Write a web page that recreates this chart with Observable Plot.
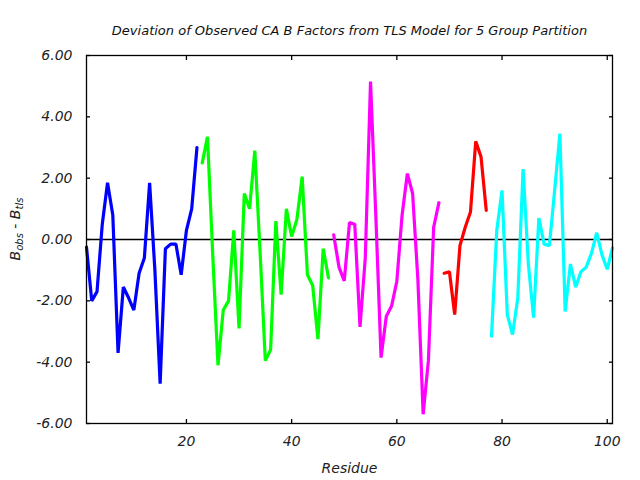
<!DOCTYPE html>
<html><head><meta charset="utf-8">
<script src="https://cdn.jsdelivr.net/npm/d3@7"></script>
<script src="https://cdn.jsdelivr.net/npm/@observablehq/plot@0.6"></script>
<style>body{margin:0;background:#fff}</style>
</head><body><div id="chart"></div>
<script>
const title = "Deviation of Observed CA B Factors from TLS Model for 5 Group Partition";
const xLabel = "Residue";
const xTicks = [20, 40, 60, 80, 100];
const yTicks = [-6, -4, -2, 0, 2, 4, 6];

// group 1 (residues 1-22)
const blueStart = 1;
const blueValues = [-0.25, -2.0, -1.7, 0.5, 1.85, 0.8, -3.7, -1.55, -1.9, -2.3, -1.1, -0.6, 1.85, -1.0, -4.7, -0.3, -0.15, -0.15, -1.15, 0.3, 1.0, 3.0];
// group 2 (residues 23-47)
const greenStart = 23;
const greenValues = [2.5, 3.35, -0.5, -4.1, -2.3, -2.0, 0.3, -2.9, 1.5, 1.0, 2.9, -0.4, -3.95, -3.6, 0.6, -1.8, 1.0, 0.1, 0.65, 2.05, -1.15, -1.5, -3.25, -0.3, -1.25];
// group 3 (residues 48-68)
const magentaStart = 48;
const magentaValues = [0.15, -0.9, -1.35, 0.55, 0.5, -2.85, -0.6, 5.15, 0.8, -3.85, -2.5, -2.17, -1.36, 0.8, 2.15, 1.5, -1.3, -5.7, -3.95, 0.4, 1.2];
// group 4 (residues 69-77)
const redStart = 69;
const redValues = [-1.1, -1.05, -2.45, -0.2, 0.4, 0.9, 3.2, 2.7, 0.95];
// group 5 (residues 78-101)
const cyanStart = 78;
const cyanValues = [-3.15, 0.3, 1.6, -2.45, -3.1, -1.9, 2.3, -0.8, -2.55, 0.7, -0.15, -0.2, 1.6, 3.45, -2.35, -0.8, -1.55, -1.05, -0.9, -0.45, 0.22, -0.5, -0.97, -0.27];

const groups = [
  {start: blueStart, values: blueValues, color: "#0000ff"},
  {start: greenStart, values: greenValues, color: "#00ff00"},
  {start: magentaStart, values: magentaValues, color: "#ff00ff"},
  {start: redStart, values: redValues, color: "#ff0000"},
  {start: cyanStart, values: cyanValues, color: "#00ffff"}
];

const font = {fontFamily: "DejaVu Sans", fontStyle: "italic"};
const fmt = d => d.toFixed(2);

const lineMarks = groups.map(g =>
  Plot.line(g.values.map((v, i) => ({residue: g.start + i, value: v})),
    {x: "residue", y: "value", stroke: g.color, strokeWidth: 3.2, strokeLinejoin: "miter"}));

const chart = Plot.plot({
  width: 640, height: 480,
  marginLeft: 86, marginRight: 28, marginTop: 55, marginBottom: 57,
  style: {background: "white", fontFamily: "DejaVu Sans"},
  x: {domain: [1, 101]},
  y: {domain: [-6, 6]},
  marks: [
    Plot.ruleY([0], {stroke: "black", strokeWidth: 1.3}),
    ...lineMarks,
    Plot.frame({stroke: "black", strokeWidth: 1.3}),
    Plot.axisX({anchor: "bottom", ticks: xTicks, tickSize: -4, tickFormat: () => "", label: null, strokeWidth: 1.3}),
    Plot.axisX({anchor: "top", ticks: xTicks, tickSize: -4, tickFormat: () => "", label: null, strokeWidth: 1.3}),
    Plot.axisY({anchor: "left", ticks: yTicks, tickSize: -4, tickFormat: () => "", label: null, strokeWidth: 1.3}),
    Plot.axisY({anchor: "right", ticks: yTicks, tickSize: -4, tickFormat: () => "", label: null, strokeWidth: 1.3}),
    Plot.axisX({anchor: "bottom", ticks: xTicks, tickSize: 0, tickPadding: 13, label: null, fontSize: 14, fill: "#222", ...font}),
    Plot.axisY({anchor: "left", ticks: yTicks, tickSize: 0, tickPadding: 14, tickFormat: fmt, label: null, fontSize: 14, fill: "#222", ...font}),
    Plot.text([title], {frameAnchor: "top", dy: -21, lineAnchor: "bottom", fontSize: 13, fill: "#111", ...font}),
    Plot.text([xLabel], {frameAnchor: "bottom", dy: 49, lineAnchor: "bottom", fontSize: 14, fill: "#222", ...font})
  ]
});

const svg = d3.select(chart);
const yl = svg.append("text")
  .attr("transform", "translate(20,229) rotate(-90)")
  .attr("text-anchor", "middle")
  .attr("font-family", "DejaVu Sans")
  .attr("font-style", "italic")
  .attr("font-size", 14)
  .attr("fill", "#222");
yl.append("tspan").text("B");
yl.append("tspan").attr("font-size", 10).attr("dy", 3).text("obs");
yl.append("tspan").attr("dy", -3).text(" - B");
yl.append("tspan").attr("font-size", 10).attr("dy", 3).text("tls");

document.getElementById("chart").appendChild(chart);
</script></body></html>
